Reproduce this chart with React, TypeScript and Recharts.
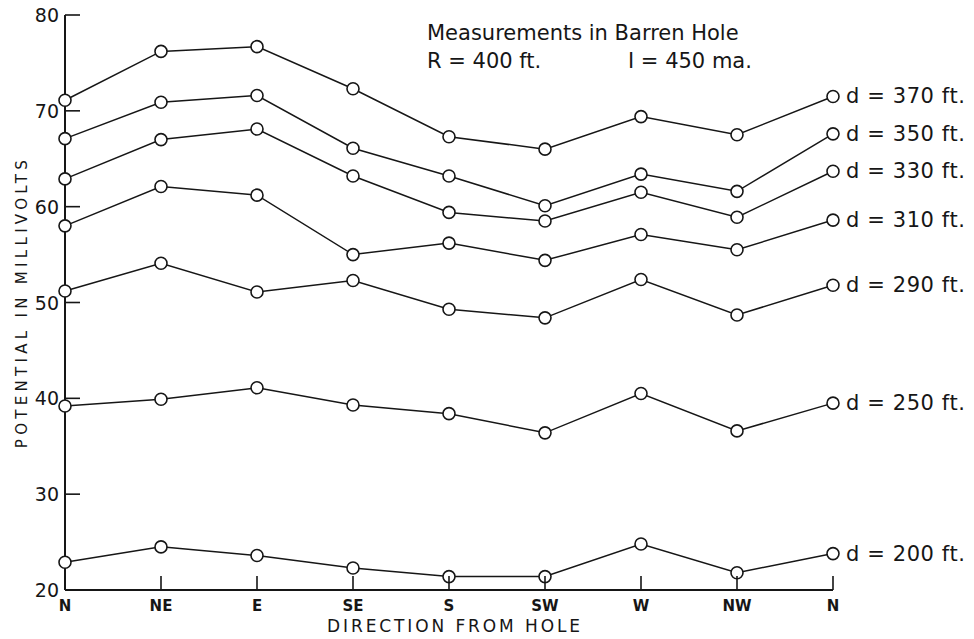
import { LineChart, Line, XAxis, YAxis } from "recharts";

const directions = ["N", "NE", "E", "SE", "S", "SW", "W", "NW", "N"];
const d370 = [71.1, 76.2, 76.7, 72.3, 67.3, 66.0, 69.4, 67.5, 71.5];
const d350 = [67.1, 70.9, 71.6, 66.1, 63.2, 60.1, 63.4, 61.6, 67.6];
const d330 = [62.9, 67.0, 68.1, 63.2, 59.4, 58.5, 61.5, 58.9, 63.7];
const d310 = [58.0, 62.1, 61.2, 55.0, 56.2, 54.4, 57.1, 55.5, 58.6];
const d290 = [51.2, 54.1, 51.1, 52.3, 49.3, 48.4, 52.4, 48.7, 51.8];
const d250 = [39.2, 39.9, 41.1, 39.3, 38.4, 36.4, 40.5, 36.6, 39.5];
const d200 = [22.9, 24.5, 23.6, 22.3, 21.4, 21.4, 24.8, 21.8, 23.8];
const yTicks = [20, 30, 40, 50, 60, 70, 80];

const seriesList = [
  { key: "d370", label: "d = 370 ft.", values: d370 },
  { key: "d350", label: "d = 350 ft.", values: d350 },
  { key: "d330", label: "d = 330 ft.", values: d330 },
  { key: "d310", label: "d = 310 ft.", values: d310 },
  { key: "d290", label: "d = 290 ft.", values: d290 },
  { key: "d250", label: "d = 250 ft.", values: d250 },
  { key: "d200", label: "d = 200 ft.", values: d200 },
];

const data = directions.map((dir, i) => {
  const row: Record<string, number | string> = { idx: i, dir };
  seriesList.forEach((s) => (row[s.key] = s.values[i]));
  return row;
});

const INK = "#161616";
const FONT = "'DejaVu Sans', sans-serif";

const YTick = (props: any) => {
  const { x, y, payload } = props;
  return (
    <g>
      <line x1={x} x2={x + 15} y1={y} y2={y} stroke={INK} strokeWidth={1.6} />
      <text x={x - 6} y={y + 7} textAnchor="end" fontSize={19} fill={INK} fontFamily={FONT}>
        {payload.value}
      </text>
    </g>
  );
};

const XTick = (props: any) => {
  const { x, y, payload } = props;
  return (
    <g>
      <line x1={x} x2={x} y1={y} y2={y - 14} stroke={INK} strokeWidth={1.6} />
      <text x={x} y={y + 21} textAnchor="middle" fontSize={15} fontWeight="bold" fill={INK} fontFamily={FONT}>
        {directions[payload.value]}
      </text>
    </g>
  );
};

const endLabel = (text: string) => (props: any) => {
  const { x, y, index } = props;
  if (index !== directions.length - 1) return null;
  return (
    <text x={x + 13} y={y + 7} fontSize={21} letterSpacing={0.6} fill={INK} fontFamily={FONT}>
      {text}
    </text>
  );
};

export default function App() {
  return (
    <div style={{ position: "absolute", left: 0, top: 0, background: "#fff" }}>
      <LineChart
        width={974}
        height={639}
        data={data}
        margin={{ top: 15, right: 141, bottom: 19, left: 30 }}
      >
        <XAxis
          dataKey="idx"
          type="number"
          domain={[0, 8]}
          ticks={[0, 1, 2, 3, 4, 5, 6, 7, 8]}
          tick={<XTick />}
          tickLine={false}
          tickSize={0}
          tickMargin={0}
          height={30}
          axisLine={{ stroke: INK, strokeWidth: 2 }}
        />
        <YAxis
          domain={[20, 80]}
          ticks={yTicks}
          tick={<YTick />}
          tickLine={false}
          tickSize={0}
          tickMargin={0}
          width={35}
          axisLine={{ stroke: INK, strokeWidth: 2 }}
        />
        {seriesList.map((s) => (
          <Line
            key={s.key}
            dataKey={s.key}
            type="linear"
            stroke={INK}
            strokeWidth={1.5}
            dot={{ r: 6, stroke: INK, strokeWidth: 1.6, fill: "#fff" }}
            activeDot={false}
            label={endLabel(s.label)}
            isAnimationActive={false}
          />
        ))}
        <text x={427} y={40} fontSize={21} fill={INK} fontFamily={FONT}>
          Measurements in Barren Hole
        </text>
        <text x={427} y={68} fontSize={21} fill={INK} fontFamily={FONT}>
          R = 400 ft.
        </text>
        <text x={628} y={68} fontSize={21} fill={INK} fontFamily={FONT}>
          I = 450 ma.
        </text>
        <text
          x={0}
          y={0}
          transform="translate(27 302) rotate(-90)"
          textAnchor="middle"
          fontSize={15}
          letterSpacing={4.3}
          fill={INK}
          fontFamily={FONT}
        >
          POTENTIAL IN MILLIVOLTS
        </text>
        <text x={455} y={632} textAnchor="middle" fontSize={17} letterSpacing={2.9} fill={INK} fontFamily={FONT}>
          DIRECTION FROM HOLE
        </text>
      </LineChart>
    </div>
  );
}
